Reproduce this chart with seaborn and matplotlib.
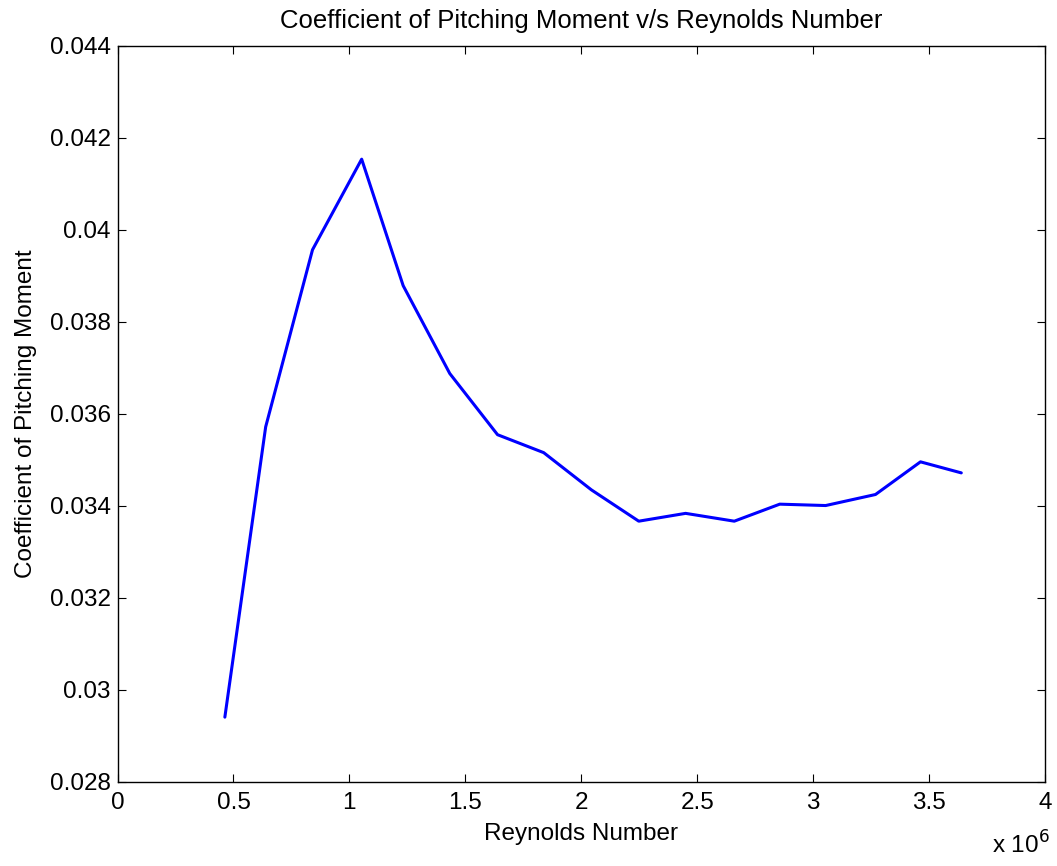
import numpy as np
import pandas as pd
import matplotlib
matplotlib.use("Agg")
import matplotlib.pyplot as plt
import seaborn as sns

reynolds_e6 = [0.463, 0.639, 0.841, 1.053, 1.232, 1.433, 1.639, 1.838, 2.044,
               2.248, 2.450, 2.660, 2.856, 3.054, 3.269, 3.463, 3.639]
cm = [0.02941, 0.03572, 0.03957, 0.04154, 0.03879, 0.03688, 0.03555, 0.03516,
      0.03435, 0.03367, 0.03384, 0.03367, 0.03404, 0.03401, 0.03425, 0.03496, 0.03472]
x_ticks = [0, 0.5, 1, 1.5, 2, 2.5, 3, 3.5, 4]
x_tick_labels = ["0", "0.5", "1", "1.5", "2", "2.5", "3", "3.5", "4"]
y_ticks = [0.028, 0.03, 0.032, 0.034, 0.036, 0.038, 0.04, 0.042, 0.044]
y_tick_labels = ["0.028", "0.03", "0.032", "0.034", "0.036", "0.038", "0.04", "0.042", "0.044"]

df = pd.DataFrame({"Re": reynolds_e6, "Cm": cm})

sns.set_style("white")
plt.rcParams["font.family"] = ["Liberation Sans", "DejaVu Sans"]
plt.rcParams["text.color"] = "black"
plt.rcParams["axes.labelcolor"] = "black"

fig = plt.figure(figsize=(10.57, 8.66), dpi=100)
ax = fig.add_axes([117.5 / 1057, 1 - 782 / 866, (1045 - 117.5) / 1057, (782 - 46) / 866])
sns.lineplot(data=df, x="Re", y="Cm", ax=ax, color=(0, 0, 1), linewidth=2.2, sort=False)

ax.set_xlim(0, 4)
ax.set_ylim(0.028, 0.044)
ax.set_xticks(x_ticks)
ax.set_xticklabels(x_tick_labels)
ax.set_yticks(y_ticks)
ax.set_yticklabels(y_tick_labels)
ax.tick_params(direction="in", length=6, width=0.8, top=True, right=True,
               bottom=True, left=True, labelsize=17.5, colors="black", pad=5)
ax.tick_params(axis="x", pad=7)
for s in ax.spines.values():
    s.set_visible(True)
    s.set_color("black")
    s.set_linewidth(1.0)

ax.set_xlabel("Reynolds Number", fontsize=17.5, labelpad=7)
ax.set_ylabel("Coefficient of Pitching Moment", fontsize=17.5, labelpad=9)
ax.set_title("Coefficient of Pitching Moment v/s Reynolds Number", fontsize=18.5, pad=13)
fig.text(1050 / 1057, 1 - 859 / 866, r"x 10$^{6}$", fontsize=17.5, ha="right", va="bottom")

fig.savefig("out.png", dpi=100, facecolor="white")
